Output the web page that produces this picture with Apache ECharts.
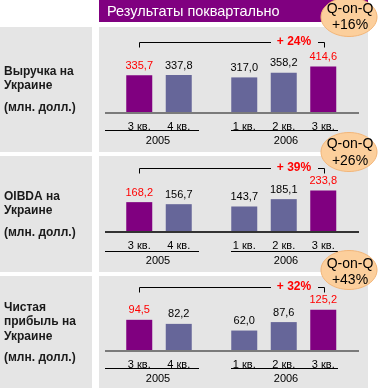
<!DOCTYPE html>
<html><head><meta charset="utf-8">
<script src="https://cdn.jsdelivr.net/npm/echarts@6/dist/echarts.min.js"></script>
<style>html,body{margin:0;padding:0;background:#fff}#c{width:379px;height:388px}</style>
</head><body><div id="c"></div>
<script>
// ---- data ----
const headerTitle = 'Результаты поквартально';
const years = ['2005', '2006'];
const quarters2005 = ['3 кв.', '4 кв.'];
const quarters2006 = ['1 кв.', '2 кв.', '3 кв.'];
const revenue = [335.7, 337.8, 317.0, 358.2, 414.6];
const oibda = [168.2, 156.7, 143.7, 185.1, 233.8];
const netIncome = [94.5, 82.2, 62.0, 87.6, 125.2];
const highlighted = [true, false, false, false, true];
const panelLabels = [
  ['Выручка на', 'Украине', '(млн. долл.)'],
  ['OIBDA на', 'Украине', '(млн. долл.)'],
  ['Чистая', 'прибыль на', 'Украине', '(млн. долл.)']
];
const yoyGrowth = ['+ 24%', '+ 39%', '+ 32%'];
const qoqGrowth = ['+16%', '+26%', '+43%'];
const qoqTitle = 'Q-on-Q';

// ---- layout ----
const W = 379, H = 388;
const FONT = '"Liberation Sans", Arial, sans-serif';
const PURPLE = '#800080', SLATE = '#666699', GRAY = '#e5e5e5';
const panels = [
  { data: revenue, top: 27, bottom: 152, base: 113, max: 650, gridTop: 40, axisColor: '#7a7a7a',
    bracketY: 42, ulY: 130, yearY: 141, labelYs: [72, 86, 108], qoq: { cy: 17, t1: 9, t2: 25 } },
  { data: oibda, top: 156, bottom: 272, base: 232, max: 400, gridTop: 161, axisColor: '#333',
    bracketY: 168, ulY: 251, yearY: 261, labelYs: [197, 211, 233], qoq: { cy: 152, t1: 144, t2: 161 } },
  { data: netIncome, top: 276, bottom: 388, base: 351, max: 200, gridTop: 285, axisColor: '#7a7a7a',
    bracketY: 287, ulY: 368, yearY: 379, labelYs: [308, 322, 337, 358], qoq: { cy: 270, t1: 264, t2: 280 } }
];
const g05 = { left: 119.5, width: 79 };
const g06 = { left: 224.5, width: 118.5 };

const grids = [], xAxes = [], yAxes = [], series = [], graphics = [];

// header
graphics.push({ type: 'rect', z: 0, shape: { x: 99, y: 0, width: 269, height: 22 }, style: { fill: PURPLE } });
graphics.push({ type: 'text', z: 5, style: { text: headerTitle, x: 107, y: 12, fill: '#fff',
  font: '14.5px ' + FONT, textAlign: 'left', textVerticalAlign: 'middle' } });

function fmt(v) { return v.toFixed(1).replace('.', ','); }

panels.forEach((p, pi) => {
  // backgrounds
  graphics.push({ type: 'rect', z: 0, shape: { x: 0, y: p.top, width: 92, height: p.bottom - p.top }, style: { fill: GRAY } });
  graphics.push({ type: 'rect', z: 0, shape: { x: 99, y: p.top, width: 269, height: p.bottom - p.top }, style: { fill: GRAY } });
  // left labels
  panelLabels[pi].forEach((t, li) => {
    graphics.push({ type: 'text', z: 5, style: { text: t, x: 4, y: p.labelYs[li], fill: '#1a1a1a',
      font: 'bold 12px ' + FONT, textAlign: 'left', textVerticalAlign: 'middle' } });
  });
  // baseline
  graphics.push({ type: 'line', z: 5, shape: { x1: 105, y1: p.base, x2: 359, y2: p.base },
    style: { stroke: p.axisColor, lineWidth: 2 } });
  // year underlines & labels
  const uy = p.ulY + 0.5;
  graphics.push({ type: 'line', z: 5, shape: { x1: 105, y1: uy, x2: 199, y2: uy }, style: { stroke: '#000', lineWidth: 1 } });
  graphics.push({ type: 'line', z: 5, shape: { x1: 231, y1: uy, x2: 338, y2: uy }, style: { stroke: '#000', lineWidth: 1 } });
  graphics.push({ type: 'text', z: 5, style: { text: years[0], x: 158, y: p.yearY, fill: '#000',
    font: '11px ' + FONT, textAlign: 'center', textVerticalAlign: 'middle' } });
  graphics.push({ type: 'text', z: 5, style: { text: years[1], x: 286, y: p.yearY, fill: '#000',
    font: '11px ' + FONT, textAlign: 'center', textVerticalAlign: 'middle' } });
  // bracket
  const by = p.bracketY + 0.5;
  graphics.push({ type: 'polyline', z: 5, shape: { points: [[139.5, by + 5], [139.5, by], [271, by]] },
    style: { stroke: '#000', lineWidth: 1, fill: null } });
  graphics.push({ type: 'polyline', z: 5, shape: { points: [[318, by], [324.5, by], [324.5, by + 5]] },
    style: { stroke: '#000', lineWidth: 1, fill: null } });
  graphics.push({ type: 'text', z: 5, style: { text: yoyGrowth[pi], x: 294, y: p.bracketY, fill: '#ff0000',
    font: 'bold 12px ' + FONT, textAlign: 'center', textVerticalAlign: 'middle' } });
  // Q-on-Q ellipse
  graphics.push({ type: 'ellipse', z: 50, shape: { cx: 349, cy: p.qoq.cy, rx: 28, ry: 19.5 },
    style: { fill: '#fccf9c', stroke: '#f3b679', lineWidth: 1 } });
  graphics.push({ type: 'text', z: 51, style: { text: qoqTitle, x: 350, y: p.qoq.t1, fill: '#000',
    font: '14px ' + FONT, textAlign: 'center', textVerticalAlign: 'middle' } });
  graphics.push({ type: 'text', z: 51, style: { text: qoqGrowth[pi], x: 350, y: p.qoq.t2, fill: '#000',
    font: '14px ' + FONT, textAlign: 'center', textVerticalAlign: 'middle' } });

  // grids: one per year
  [[g05, quarters2005, 0], [g06, quarters2006, 2]].forEach(([g, cats, offset]) => {
    const gi = grids.length;
    grids.push({ left: g.left, width: g.width, top: p.gridTop, bottom: H - p.base, containLabel: false });
    xAxes.push({ type: 'category', gridIndex: gi, data: cats, axisLine: { show: false }, axisTick: { show: false },
      axisLabel: { color: '#000', fontSize: 11, fontFamily: FONT, margin: 8 } });
    yAxes.push({ type: 'value', gridIndex: gi, min: 0, max: p.max, show: false, splitLine: { show: false } });
    series.push({
      type: 'bar', xAxisIndex: gi, yAxisIndex: gi, barWidth: 26, z: 3,
      data: cats.map((c, i) => {
        const k = offset + i;
        const hl = highlighted[k];
        return { value: p.data[k], itemStyle: { color: hl ? PURPLE : SLATE },
          label: { color: hl ? '#ff0000' : '#000' } };
      }),
      label: { show: true, position: 'top', distance: 4, fontSize: 11, fontFamily: FONT,
        formatter: (q) => fmt(q.value) }
    });
  });
});

const chart = echarts.init(document.getElementById('c'), null, { renderer: 'canvas' });
chart.setOption({
  animation: false,
  backgroundColor: '#fff',
  grid: grids, xAxis: xAxes, yAxis: yAxes, series: series,
  graphic: { elements: graphics }
});
</script></body></html>
